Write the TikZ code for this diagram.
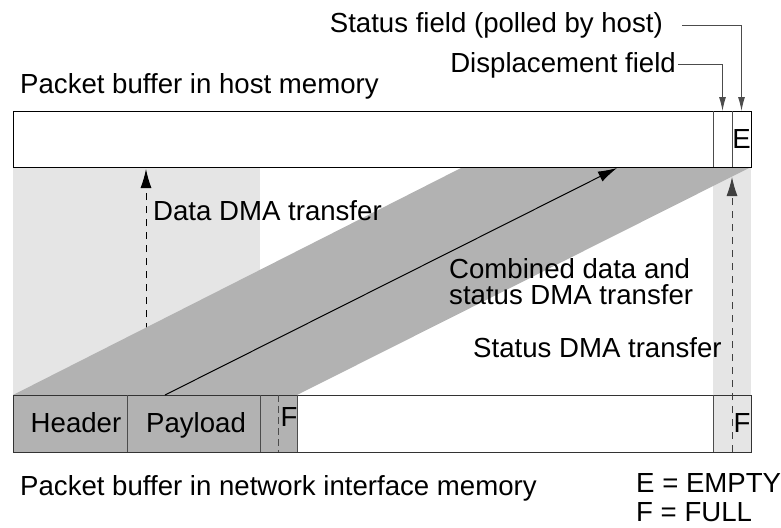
\documentclass[tikz,border=0pt]{standalone}
\usepackage{fontspec}
\setmainfont{Liberation Sans}
\usetikzlibrary{arrows.meta}

\begin{document}
\begin{tikzpicture}[x = 1pt, y = -1pt, > = {Latex[length = 19pt, width = 11pt]},
	every node/.style = {font = \fontsize{27.6}{26}\selectfont, inner sep = 0pt},
	txt/.style = {anchor = base west},
	dma/.style = {->, line width = 1pt, dash pattern = on 7pt off 6pt},
	field/.style = {draw = black!70, line width = 1pt},
	pointer/.style = {field, -{Latex[length = 14pt, width = 7pt]}}]

	% Definitions

	\def\L{13}		% left edge of both buffers
	\def\R{751}		% right edge of both buffers
	\def\D{713}		% displacement field
	\def\S{732}		% status field

	\useasboundingbox (0, 0) rectangle (781, 527);

	% Shaded transfer areas

	\fill [black!10] (\L, 167) rectangle (260, 395);
	\fill [black!10] (\D, 167) rectangle (\R, 452);

	\coordinate (data src) at (146, 395);
	\coordinate (data dst) at (146, 169);
	\draw [dma] (data src) -- (data dst);

	\fill [black!30] (\L, 395) -- (297, 395) -- (\R, 167) -- (463, 167) -- cycle;

	% Host buffer

	\draw [fill = white, line width = 1pt] (\L, 111) rectangle (\R, 167);
	\draw [field] (\D, 111) -- (\D, 167);
	\draw [field] (\S, 111) -- (\S, 167);
	\node (e top) at (741.5, 139) {E};

	\coordinate (disp field) at (722.5, 111);
	\coordinate (status field) at (741.5, 111);

	% Network interface buffer

	\fill [black!30] (\L, 395) rectangle (297, 452);
	\draw [draw = black!80, line width = 1pt] (\L, 395) rectangle (\R, 452);
	\draw [field] (127, 395) -- (127, 452);
	\draw [field] (260, 395) -- (260, 452);
	\draw [field, dash pattern = on 7pt off 4pt] (278, 395) -- (278, 452);
	\draw [field] (297, 395) -- (297, 452);
	\draw [field] (\D, 395) -- (\D, 452);

	\node [anchor = base] (header) at (76, 432) {Header};
	\node [anchor = base] (payload) at (196, 432) {Payload};
	\node [anchor = base] (f left) at (289, 426) {F};
	\node [anchor = base] (f right) at (742, 432) {F};

	% DMA transfers

	\coordinate (comb src) at (165, 395);
	\coordinate (comb dst) at (617, 168);
	\draw [->, line width = 1pt] (comb src) -- (comb dst);

	\coordinate (stat src) at (\S, 452);
	\coordinate (stat dst) at (\S, 177);
	\draw [dma, draw = black!75] (stat src) -- (stat dst);

	\node [txt] (data lbl) at (153, 220) {Data DMA transfer};
	\node [anchor = north west, align = left] (comb lbl) at (449, 258) {Combined data and\\status DMA transfer};
	\node [txt] (stat lbl) at (473, 357) {Status DMA transfer};

	% Field labels

	\node [anchor = base east] (status lbl) at (663, 33) {Status field (polled by host)};
	\node [anchor = base east] (disp lbl) at (676, 72) {Displacement field};
	\draw [pointer] ([xshift = 19pt] status lbl.east) -| (status field);
	\draw [pointer] ([xshift = 2pt] disp lbl.east) -| (disp field);

	% Captions

	\node [txt] (host) at (20, 93) {Packet buffer in host memory};
	\node [txt] (nic) at (20, 495) {Packet buffer in network interface memory};
	\node [txt] (empty) at (636, 492) {E = EMPTY};
	\node [txt] (full) at (636, 521) {F = FULL};

\end{tikzpicture}
\end{document}
